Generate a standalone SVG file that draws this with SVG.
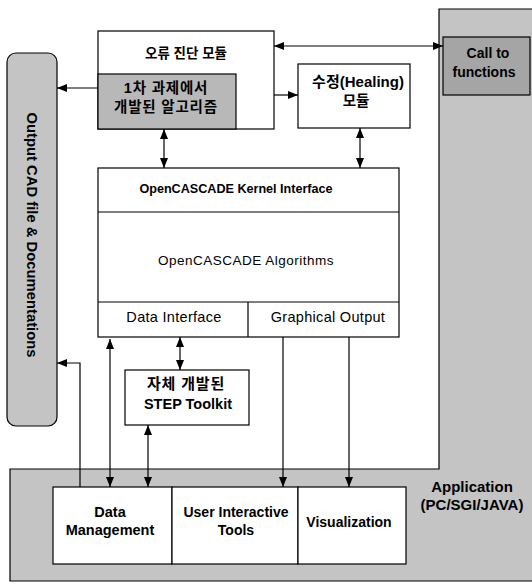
<svg xmlns="http://www.w3.org/2000/svg" width="532" height="584" viewBox="0 0 532 584">
<defs>
<marker id="ah" markerUnits="userSpaceOnUse" markerWidth="10" markerHeight="8" refX="10" refY="4" orient="auto-start-reverse">
<path d="M0,0 L10,4 L0,8 Z" fill="#000"/>
</marker>
<style>
.box{fill:#fff;stroke:#000;stroke-width:1.2}
.shade{fill:#c4c4c4;stroke:#000;stroke-width:1.2}
.t{font-family:"Liberation Sans","Noto Sans CJK KR",sans-serif;font-size:13.5px;fill:#000;text-anchor:middle}
.b{font-weight:bold}
.k{font-size:14.5px;letter-spacing:0.8px}
.c{fill:none;stroke:#000;stroke-width:1.2}
</style>
</defs>
<rect width="532" height="584" fill="#fff"/>

<g id="application">
<path class="shade" d="M10,469 L439,469 L439,9 L533,9 L533,581 L10,581 Z"/>
<text class="t b" x="472" y="492" style="font-size:15px">Application</text>
<text class="t b" x="472" y="510" style="font-size:15px">(PC/SGI/JAVA)</text>
</g>

<g id="output-cad">
<rect class="shade" x="7" y="53" width="50" height="373" rx="9"/>
<text class="t b" transform="translate(27,235) rotate(90)" style="font-size:14.8px">Output CAD file &amp; Documentations</text>
</g>

<g id="call-to-functions">
<rect x="443" y="37" width="87" height="58" fill="#a5a5a5" stroke="#000" stroke-width="1.2"/>
<text class="t b" x="488" y="58" style="font-size:14px">Call to</text>
<text class="t b" x="484" y="77" style="font-size:14px">functions</text>
</g>

<g id="error-diagnosis">
<rect class="box" x="98" y="31" width="176" height="98"/>
<text class="t b" x="186" y="58">오류 진단 모듈</text>
</g>

<g id="algorithm">
<rect class="shade" x="98" y="74" width="138" height="55" style="fill:#b8b8b8"/>
<text class="t b k" x="166" y="93">1차 과제에서</text>
<text class="t b k" x="166" y="112">개발된 알고리즘</text>
</g>

<g id="healing">
<rect class="box" x="298" y="64" width="112" height="64"/>
<text class="t b" x="358" y="87" style="font-size:15px">수정(Healing)</text>
<text class="t b" x="356" y="106" style="font-size:14.5px">모듈</text>
</g>

<g id="opencascade">
<rect class="box" x="98" y="168" width="301" height="169"/>
<line class="c" x1="98" y1="212" x2="399" y2="212"/>
<line class="c" x1="98" y1="302" x2="399" y2="302"/>
<line class="c" x1="248" y1="302" x2="248" y2="337"/>
<text class="t b" x="236" y="193" style="font-size:12.6px">OpenCASCADE Kernel Interface</text>
<text class="t" x="246" y="265" style="letter-spacing:0.5px">OpenCASCADE Algorithms</text>
<text class="t" x="174" y="322" style="font-size:14.5px;letter-spacing:0.3px">Data Interface</text>
<text class="t" x="328" y="322" style="font-size:14.5px;letter-spacing:0.3px">Graphical Output</text>
</g>

<g id="step-toolkit">
<rect class="box" x="125" y="370" width="124" height="55"/>
<text class="t b k" x="186" y="389" style="font-size:15px">자체 개발된</text>
<text class="t b" x="188" y="409" style="font-size:14.5px">STEP Toolkit</text>
</g>

<g id="data-management">
<rect class="box" x="53" y="487" width="119" height="77"/>
<text class="t b" x="110" y="517" style="font-size:14.5px">Data</text>
<text class="t b" x="110" y="535" style="font-size:14.5px">Management</text>
</g>

<g id="user-interactive">
<rect class="box" x="172" y="487" width="126" height="77"/>
<text class="t b" x="236" y="517" style="font-size:14px">User Interactive</text>
<text class="t b" x="236" y="535" style="font-size:14px">Tools</text>
</g>

<g id="visualization">
<rect class="box" x="298" y="487" width="108" height="77"/>
<text class="t b" x="349" y="527" style="font-size:14px">Visualization</text>
</g>

<g id="connectors">
<line class="c" x1="98" y1="88" x2="57" y2="88" marker-end="url(#ah)"/>
<line class="c" x1="274" y1="46" x2="443" y2="46" marker-start="url(#ah)" marker-end="url(#ah)"/>
<line class="c" x1="274" y1="95" x2="298" y2="95" marker-end="url(#ah)"/>
<line class="c" x1="164" y1="129" x2="164" y2="168" marker-start="url(#ah)" marker-end="url(#ah)"/>
<line class="c" x1="360" y1="128" x2="360" y2="168" marker-start="url(#ah)" marker-end="url(#ah)"/>
<line class="c" x1="180" y1="337" x2="180" y2="370" marker-start="url(#ah)" marker-end="url(#ah)"/>
<polyline class="c" points="80,487 80,363 57,363" marker-end="url(#ah)"/>
<line class="c" x1="110" y1="339" x2="110" y2="487" marker-start="url(#ah)" marker-end="url(#ah)"/>
<line class="c" x1="148" y1="425" x2="148" y2="487" marker-start="url(#ah)" marker-end="url(#ah)"/>
<line class="c" x1="283" y1="337" x2="283" y2="487" marker-end="url(#ah)"/>
<line class="c" x1="349" y1="337" x2="349" y2="487" marker-end="url(#ah)"/>
</g>
</svg>
